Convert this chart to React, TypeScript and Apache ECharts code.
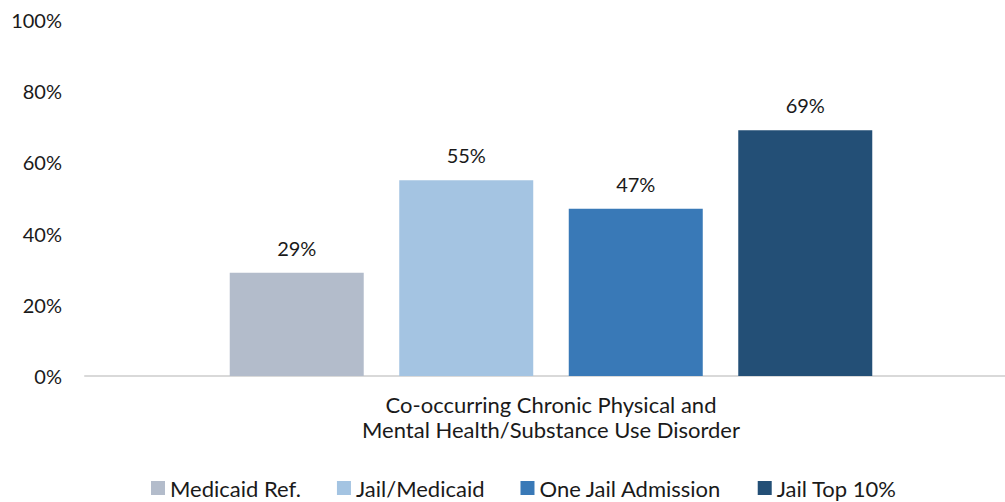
import React, { useEffect, useRef } from "react";
import * as echarts from "echarts";

const categories = ["Co-occurring Chronic Physical and\nMental Health/Substance Use Disorder"];
const seriesNames = ["Medicaid Ref.", "Jail/Medicaid", "One Jail Admission", "Jail Top 10%"];
const seriesValues = [[29], [55], [47], [69]];
const seriesColors = ["#b3bccb", "#a4c4e2", "#3979b7", "#234f76"];
const yTicks = { min: 0, max: 100, interval: 20 };

const FONT = "Lato";
const TEXT = "#1a1a1a";

export default function App() {
  const ref = useRef<HTMLDivElement>(null);

  useEffect(() => {
    if (!ref.current) return;
    const chart = echarts.init(ref.current, undefined, { renderer: "svg" });
    chart.setOption({
      animation: false,
      textStyle: { fontFamily: FONT },
      grid: [
        // plot area holding the bars
        { left: 97, right: 0, top: 20, bottom: 126, containLabel: false },
        // wider frame that only carries the baseline
        { left: 85, right: 0, top: 20, bottom: 126, containLabel: false },
      ],
      legend: {
        top: 472,
        left: 146,
        itemWidth: 14,
        itemHeight: 14,
        itemGap: 36,
        icon: "rect",
        textStyle: { fontFamily: FONT, fontSize: 22, color: TEXT },
        data: seriesNames,
      },
      xAxis: [
        {
          type: "category",
          gridIndex: 0,
          data: categories,
          axisLine: { show: false },
          axisTick: { show: false },
          axisLabel: {
            margin: 16,
            fontFamily: FONT,
            fontSize: 22,
            lineHeight: 25,
            color: TEXT,
          },
        },
        {
          type: "category",
          gridIndex: 1,
          data: [""],
          axisLine: { lineStyle: { color: "#d9d9d9", width: 2 } },
          axisTick: { show: false },
          axisLabel: { show: false },
        },
      ],
      yAxis: [
        {
          type: "value",
          gridIndex: 0,
          min: yTicks.min,
          max: yTicks.max,
          interval: yTicks.interval,
          axisLine: { show: false },
          axisTick: { show: false },
          splitLine: { show: false },
          axisLabel: {
            formatter: "{value}%",
            margin: 35,
            fontFamily: FONT,
            fontSize: 20,
            color: TEXT,
          },
        },
        {
          type: "value",
          gridIndex: 1,
          min: yTicks.min,
          max: yTicks.max,
          show: false,
        },
      ],
      series: seriesNames.map((name, i) => ({
        name,
        type: "bar",
        xAxisIndex: 0,
        yAxisIndex: 0,
        data: seriesValues[i],
        barWidth: 134,
        barGap: "26.5%",
        itemStyle: { color: seriesColors[i] },
        label: {
          show: true,
          position: "top",
          distance: 15,
          formatter: "{c}%",
          fontFamily: FONT,
          fontSize: 20,
          color: TEXT,
        },
      })),
    });
    return () => chart.dispose();
  }, []);

  return (
    <div
      ref={ref}
      style={{ position: "fixed", left: 0, top: 0, width: 1005, height: 502, background: "#fff" }}
    />
  );
}
